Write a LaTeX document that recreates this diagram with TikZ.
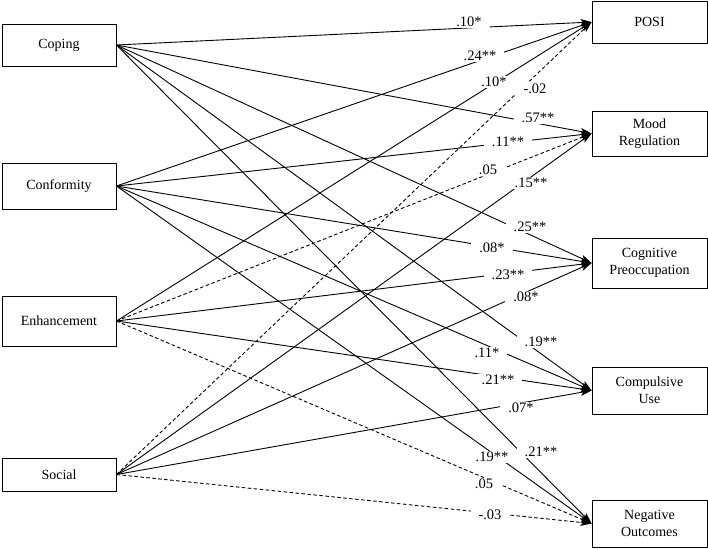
\documentclass[tikz,border=0pt]{standalone}
\usepackage{fontspec}
\setmainfont{Liberation Serif}
\usetikzlibrary{arrows.meta}
\begin{document}
\begin{tikzpicture}[x=1pt,y=-1pt,
  box/.style={draw,line width=0.9pt,minimum width=114pt,align=center,inner sep=0pt,
    font=\fontsize{14}{17}\selectfont},
  path/.style={line width=0.9pt,-{Stealth[length=11pt,width=7pt,inset=2.5pt]}},
  dpath/.style={path,dash pattern=on 3.5pt off 2.5pt},
  lbl/.style={fill=white,inner xsep=8pt,inner ysep=1.5pt,font=\fontsize{14.5}{16}\selectfont}]
\useasboundingbox (0,0) rectangle (708,549);
% sources
\node[box,minimum height=42pt] (cop) at (59,45) {Coping};
\node[box,minimum height=46pt] (con) at (59,186) {Conformity};
\node[box,minimum height=50pt] (enh) at (59,321) {Enhancement};
\node[box,minimum height=33pt] (soc) at (59,474.5) {Social};
% targets
\node[box,minimum width=115pt,minimum height=42pt] (posi) at (649.5,22) {POSI};
\node[box,minimum width=115pt,minimum height=45pt] (mood) at (649.5,133.5) {Mood\\Regulation};
\node[box,minimum width=115pt,minimum height=50pt] (cog) at (649.5,263) {Cognitive\\Preoccupation};
\node[box,minimum width=115pt,minimum height=47pt] (comp) at (649.5,390.5) {Compulsive\\Use};
\node[box,minimum width=115pt,minimum height=47pt] (neg) at (649.5,523.5) {Negative\\Outcomes};
% paths
\draw[path] (cop.east) -- (posi.west);
\draw[path] (con.east) -- (posi.west);
\draw[path] (enh.east) -- (posi.west);
\draw[dpath] (soc.east) -- (posi.west);
\draw[path] (cop.east) -- (mood.west);
\draw[path] (con.east) -- (mood.west);
\draw[dpath] (enh.east) -- (mood.west);
\draw[path] (soc.east) -- (mood.west);
\draw[path] (cop.east) -- (cog.west);
\draw[path] (con.east) -- (cog.west);
\draw[path] (enh.east) -- (cog.west);
\draw[path] (soc.east) -- (cog.west);
\draw[path] (cop.east) -- (comp.west);
\draw[path] (con.east) -- (comp.west);
\draw[path] (enh.east) -- (comp.west);
\draw[path] (soc.east) -- (comp.west);
\draw[path] (cop.east) -- (neg.west);
\draw[path] (con.east) -- (neg.west);
\draw[dpath] (enh.east) -- (neg.west);
\draw[dpath] (soc.east) -- (neg.west);
% labels
\node[lbl] (l1) at (469,22) {.10*};
\node[lbl] (l2) at (480,56) {.24**};
\node[lbl] (l3) at (494,82) {.10*};
\node[lbl] (l4) at (535,89) {-.02};
\node[lbl] (l5) at (538,118) {.57**};
\node[lbl] (l6) at (508,142) {.11**};
\node[lbl] (l7) at (488,170) {.05};
\node[lbl] (l8) at (531,183) {.15**};
\node[lbl] (l9) at (530,227) {.25**};
\node[lbl] (l10) at (492,248) {.08*};
\node[lbl] (l11) at (508,275) {.23**};
\node[lbl] (l12) at (526,297) {.08*};
\node[lbl] (l13) at (541,342) {.19**};
\node[lbl] (l14) at (487,353) {.11*};
\node[lbl] (l15) at (498,380) {.21**};
\node[lbl] (l16) at (521,408) {.07*};
\node[lbl] (l17) at (492,457) {.19**};
\node[lbl] (l18) at (541,452) {.21**};
\node[lbl] (l19) at (484,484) {.05};
\node[lbl] (l20) at (490,515) {-.03};
\end{tikzpicture}
\end{document}
